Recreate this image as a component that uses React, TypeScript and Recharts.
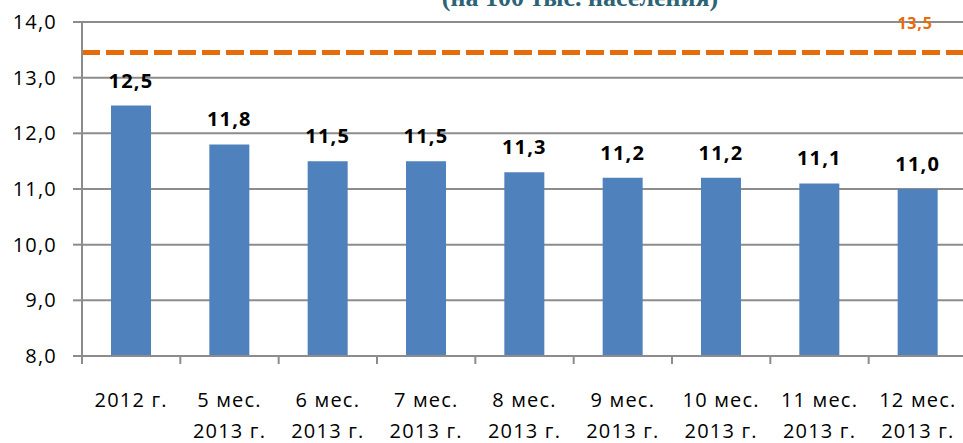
import { Bar, BarChart, CartesianGrid, LabelList, ReferenceLine, XAxis, YAxis } from 'recharts';

// categories and values
const periods = ['2012 г.', '5 мес.', '6 мес.', '7 мес.', '8 мес.', '9 мес.', '10 мес.', '11 мес.', '12 мес.'];
const periodYears = ['', '2013 г.', '2013 г.', '2013 г.', '2013 г.', '2013 г.', '2013 г.', '2013 г.', '2013 г.'];
const rates = [12.5, 11.8, 11.5, 11.5, 11.3, 11.2, 11.2, 11.1, 11.0];
const yTicks = [8, 9, 10, 11, 12, 13, 14];
const normLevel = 13.45;
const normLabel = '13,5';
const subtitle = '(на 100 тыс. населения)';

const data = periods.map((p, i) => ({ name: p, year: periodYears[i], rate: rates[i] }));

const FONT = '"Open Sans", sans-serif';
const GRID = '#8c8c8c';

const fmt = (v: number) => v.toFixed(1).replace('.', ',');

function PeriodTick(props: any) {
    const { x, y, payload, index } = props;
    const half = payload?.offset ?? 49;
    const year = periodYears[index] ?? '';
    return (
        <g>
            <line x1={x - half} x2={x - half} y1={y - 8} y2={y} stroke={GRID} strokeWidth={2} />
            {index === periods.length - 1 && (
                <line x1={x + half} x2={x + half} y1={y - 8} y2={y} stroke={GRID} strokeWidth={2} />
            )}
            <text x={x} y={y} textAnchor="middle" fontFamily={FONT} fontSize={20} letterSpacing={1.2} fill="#000">
                <tspan x={x} dy={43}>{payload.value}</tspan>
                {year && <tspan x={x} dy={31}>{year}</tspan>}
            </text>
        </g>
    );
}

function NormLabel(props: any) {
    const vb = props.viewBox || {};
    return (
        <text
            x={vb.x + vb.width - 52}
            y={vb.y - 24}
            textAnchor="middle"
            fontFamily={FONT}
            fontWeight="bold"
            fontSize={16}
            letterSpacing={0.8}
            fill="#E46C0A"
        >
            {normLabel}
        </text>
    );
}

export default function App() {
    return (
        <div style={{ position: 'absolute', left: 0, top: 0, width: 963, height: 443, overflow: 'hidden', background: '#fff' }}>
            <BarChart
                width={970}
                height={443}
                data={data}
                margin={{ top: 22, right: 3, bottom: 0, left: 0 }}
                barSize={40}
            >
                <CartesianGrid vertical={false} stroke={GRID} strokeWidth={2} />
                <XAxis
                    dataKey="name"
                    height={87}
                    axisLine={{ stroke: GRID, strokeWidth: 2 }}
                    tickLine={false}
                    tick={<PeriodTick />}
                    interval={0}
                />
                <YAxis
                    width={82}
                    domain={[8, 14]}
                    ticks={yTicks}
                    tickFormatter={fmt}
                    axisLine={{ stroke: GRID, strokeWidth: 2 }}
                    tickLine={{ stroke: GRID, strokeWidth: 2 }}
                    tickSize={9}
                    tickMargin={16}
                    tick={{ fontFamily: FONT, fontSize: 20, fill: '#000', letterSpacing: 1.2 }}
                    allowDataOverflow
                />
                <Bar dataKey="rate" fill="#4F81BD" isAnimationActive={false}>
                    <LabelList
                        dataKey="rate"
                        position="top"
                        offset={18}
                        formatter={(v: any) => fmt(Number(v))}
                        style={{ fontFamily: FONT, fontSize: 20, fontWeight: 'bold', fill: '#000', letterSpacing: 1.2 }}
                    />
                </Bar>
                <ReferenceLine
                    y={normLevel}
                    stroke="#E46C0A"
                    strokeWidth={5}
                    strokeDasharray="18 6"
                    label={<NormLabel />}
                />
            </BarChart>
            {/* subtitle: only its lower part shows at the top edge, as in the source */}
            <svg width={963} height={30} style={{ position: 'absolute', left: 0, top: 0, zIndex: 5 }}>
                <text x={580} y={6} textAnchor="middle" fontFamily='"Liberation Serif", serif' fontWeight="bold" fontSize={26} fill="#2B6377">
                    {subtitle}
                </text>
            </svg>
        </div>
    );
}
